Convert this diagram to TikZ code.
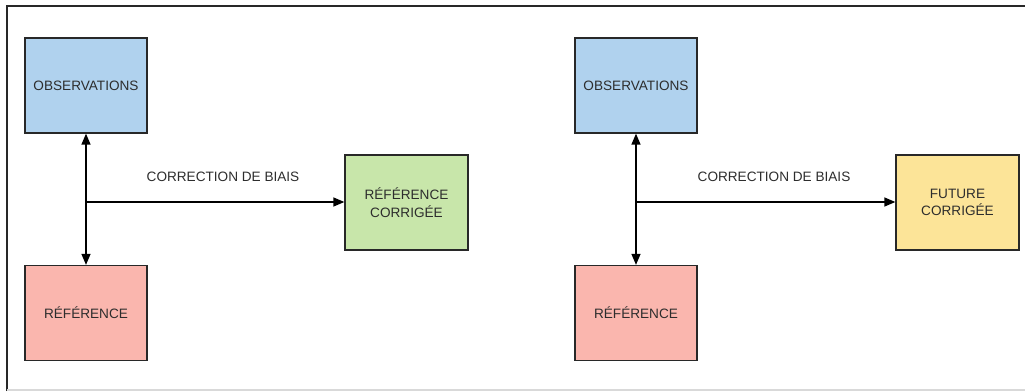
\documentclass[tikz,border=0pt]{standalone}
\usepackage{fontspec}
\setmainfont{Liberation Sans}
\usetikzlibrary{arrows.meta}
\definecolor{obsblue}{RGB}{176,210,238}
\definecolor{refpink}{RGB}{250,182,174}
\definecolor{corgreen}{RGB}{200,230,170}
\definecolor{futyellow}{RGB}{252,228,152}
\definecolor{txt}{RGB}{45,45,45}
\definecolor{framegray}{RGB}{40,40,40}
\begin{document}
\begin{tikzpicture}[x=1pt,y=-1pt,
  box/.style={draw=framegray,line width=1.3pt,minimum width=122pt,minimum height=95pt,
    inner sep=0pt,align=center,font=\fontsize{13.6}{17.5}\selectfont,text=txt},
  conn/.style={draw=black,line width=1.4pt},
  tip/.style={-{Triangle[length=11pt,width=9pt]}},
  lbl/.style={font=\fontsize{13.6}{16}\selectfont,text=txt}]
\useasboundingbox (0,0) rectangle (1025,391);
\fill[white] (0,0) rectangle (1025,391);
% frame
\draw[framegray,line width=1.5pt] (7,391) -- (7,6) -- (1025,6);
\draw[gray!30,line width=1.2pt] (7,390) -- (1025,390);
% left panel
\node[box,fill=obsblue] (obs1) at (86,85.5) {OBSERVATIONS};
\node[box,fill=refpink] (ref1) at (86,313) {RÉFÉRENCE};
\node[box,fill=corgreen,minimum width=123pt] (cor1) at (406.5,202.5) {RÉFÉRENCE\\CORRIGÉE};
\coordinate (j1) at (86,202);
\draw[conn,tip] (j1) -- (obs1.south);
\draw[conn,tip] (j1) -- (ref1.north);
\draw[conn,tip] (j1) -- (cor1.west|-j1);
\node[lbl] (l1) at (223,177) {CORRECTION DE BIAIS};
% right panel
\node[box,fill=obsblue] (obs2) at (636,85.5) {OBSERVATIONS};
\node[box,fill=refpink] (ref2) at (636,313) {RÉFÉRENCE};
\node[box,fill=futyellow,minimum width=123pt] (fut2) at (957.5,202.5) {FUTURE\\CORRIGÉE};
\coordinate (j2) at (636,202);
\draw[conn,tip] (j2) -- (obs2.south);
\draw[conn,tip] (j2) -- (ref2.north);
\draw[conn,tip] (j2) -- (fut2.west|-j2);
\node[lbl] (l2) at (774,177) {CORRECTION DE BIAIS};
\end{tikzpicture}
\end{document}
